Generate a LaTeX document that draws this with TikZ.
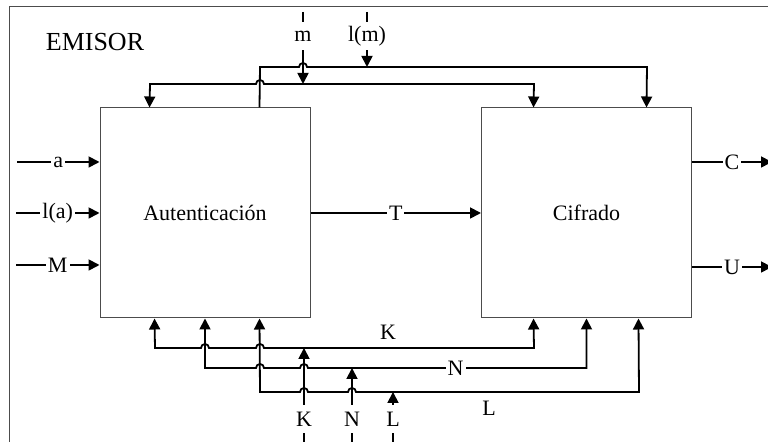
\documentclass[tikz,border=0pt]{standalone}
\usepackage{fontspec}
\setmainfont{Liberation Serif}
\usetikzlibrary{arrows.meta,calc}

% a horizontal line jumping over a vertical one at x=#1, y=#2
\newcommand{\hop}[2]{-- (#1-4,#2) arc[start angle=180,end angle=360,radius=4]}

\begin{document}
\begin{tikzpicture}[x=0.5pt,y=-0.5pt,
			font=\fontsize{11}{13}\selectfont,
			>={Triangle[length=5.5pt,width=5.5pt]},
			block/.style={rectangle, draw=black!70, line width=0.5pt, minimum width=105pt, minimum height=105pt, inner sep=0pt},
			wire/.style={line width=0.9pt},
			tag/.style={fill=white, inner sep=1pt},
			feed/.style={minimum height=14pt, inner sep=0pt}
			]
			\useasboundingbox (0,0) rectangle (768,442);
			\draw[black!70, line width=0.5pt] (9,450) -- (9,7) -- (780,7);
			\node[font=\fontsize{13}{15}\selectfont] (emisor) at (95,42) {EMISOR};
			
			\node[block] (auth) at (205,213) {Autenticación};
			\node[block] (cif) at (586.5,213) {Cifrado};
			
			\coordinate (upA) at (0,67);
			\coordinate (upB) at (0,84);
			\coordinate (busK) at (0,348);
			\coordinate (busN) at (0,368);
			\coordinate (busL) at (0,392);
			
			\coordinate (ina) at (17,162);
			\coordinate (inla) at (16,213);
			\coordinate (inM) at (16,265);
			\coordinate (outC) at (772,162);
			\coordinate (outU) at (772,267);
			
			\draw[wire,->] (ina) -- node[tag]{a} (ina -| auth.west);
			\draw[wire,->] (inla) -- node[tag]{l(a)} (inla -| auth.west);
			\draw[wire,->] (inM) -- node[tag]{M} (inM -| auth.west);
			\draw[wire,->] (auth) -- node[tag]{T} (cif);
			\draw[wire,->] (outC -| cif.east) -- node[tag]{C} (outC);
			\draw[wire,->] (outU -| cif.east) -- node[tag]{U} (outU);
			
			\coordinate (mtop) at (303,12);
			\coordinate (lmtop) at (367,12);
			\node[feed] (mlab) at (303,36) {m};
			\node[feed] (lmlab) at (367,36) {l(m)};
			\draw[wire] (mtop) -- (mlab);
			\draw[wire] (lmtop) -- (lmlab);
			
			\draw[wire,->] ($(auth.north west)+(160,0)$) -- (260,67) \hop{303}{67} -- (647,67) -- ($(cif.north west)+(165.5,0)$);
			\draw[wire,<->] ($(auth.north west)+(50,0)$) -- (150,84) \hop{260}{84} -- (534,84) -- ($(cif.north west)+(52.5,0)$);
			\draw[wire,->] (mlab) -- (mlab |- upB);
			\draw[wire,->] (lmlab) -- (lmlab |- upA);
			
			\draw[wire,<->] ($(auth.south west)+(55,0)$) -- (155,348) \hop{205}{348} \hop{260}{348} -- (534,348) -- ($(cif.south west)+(52.5,0)$);
			\draw[wire,<->] (auth.south) -- (205,368) \hop{260}{368} \hop{304}{368} -- node[tag,pos=0.53]{N} (586.5,368) -- (cif.south);
			\draw[wire,<->] ($(auth.south west)+(160,0)$) -- (260,392) \hop{304}{392} \hop{352}{392} -- (639,392) -- ($(cif.south west)+(157.5,0)$);
			\node (klab) at (388,332) {K};
			\node (llab) at (489,408) {L};
			
			\coordinate (kbot) at (304,446);
			\coordinate (nbot) at (352,446);
			\coordinate (lbot) at (393,446);
			\node[feed] (kin) at (304,419) {K};
			\node[feed] (nin) at (352,419) {N};
			\node[feed] (lin) at (393,419) {L};
			\draw[wire] (kbot) -- (kin);
			\draw[wire] (nbot) -- (nin);
			\draw[wire] (lbot) -- (lin);
			\draw[wire,->] (kin) -- (kin |- busK);
			\draw[wire,->] (nin) -- (nin |- busN);
			\draw[wire,->] (lin) -- (lin |- busL);
		\end{tikzpicture}
\end{document}
